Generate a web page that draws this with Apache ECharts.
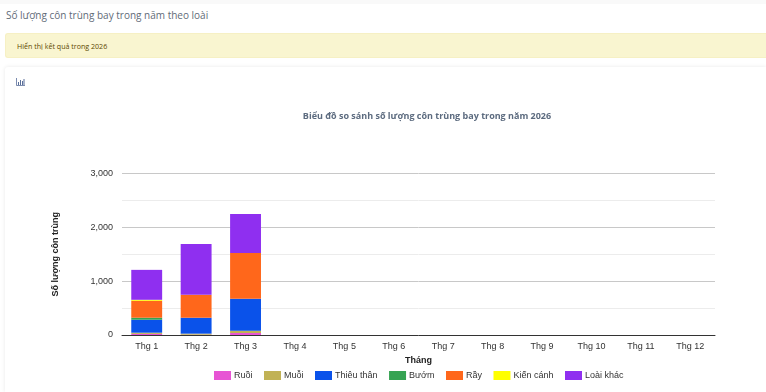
<!DOCTYPE html>
<html>
<head>
<meta charset="utf-8">
<script src="https://cdn.jsdelivr.net/npm/echarts@6/dist/echarts.min.js"></script>
<style>
  html, body { margin: 0; padding: 0; width: 766px; height: 392px; overflow: hidden; background: #fff; font-family: "Open Sans", sans-serif; }
  .top-shade { position: absolute; left: 0; top: 0; width: 766px; height: 4px; background: #f9f9f9; }
  .page-title { position: absolute; left: 6px; top: 7px; font-size: 10px; line-height: 17px; color: #5f6b78; }
  .alert { position: absolute; left: 5px; top: 33px; width: 761px; height: 25px; box-sizing: border-box; background: #f9f5d0; border: 1px solid #f6f0c4; border-right: 0; border-radius: 3px 0 0 3px; color: #5e4800; font-size: 7.1px; line-height: 25px; padding-left: 11px; }
  .card { position: absolute; left: 5px; top: 67px; width: 761px; height: 325px; background: #fff; border-radius: 3px 0 0 0; box-shadow: 0 0 4px rgba(0,0,0,0.09); }
  .icon { position: absolute; left: 11px; top: 11px; }
  #chart { position: absolute; left: 0; top: 0; width: 761px; height: 325px; }
</style>
</head>
<body>
<div class="top-shade"></div>
<div class="page-title">Số lượng côn trùng bay trong năm theo loài</div>
<div class="alert">Hiển thị kết quả trong 2026</div>
<div class="card">
  <div id="chart"></div>
  <svg class="icon" width="9" height="8" viewBox="0 0 9 8">
    <path d="M0.5 0V7.5H9" fill="none" stroke="#5a6f9a" stroke-width="0.8"/>
    <path d="M2 4h1v3H2zM4 2h1v5H4zM6 3h1v4H6zM7.5 1h1v6h-1z" fill="#5a6f9a"/>
  </svg>
</div>
<script>
const months = ['Thg 1', 'Thg 2', 'Thg 3', 'Thg 4', 'Thg 5', 'Thg 6', 'Thg 7', 'Thg 8', 'Thg 9', 'Thg 10', 'Thg 11', 'Thg 12'];
const ruoi = [20, 5, 37, 0, 0, 0, 0, 0, 0, 0, 0, 0];
const muoi = [23, 20, 43, 0, 0, 0, 0, 0, 0, 0, 0, 0];
const thieuThan = [241, 296, 593, 0, 0, 0, 0, 0, 0, 0, 0, 0];
const buom = [37, 0, 0, 0, 0, 0, 0, 0, 0, 0, 0, 0];
const ray = [315, 426, 852, 0, 0, 0, 0, 0, 0, 0, 0, 0];
const kienCanh = [18, 0, 0, 0, 0, 0, 0, 0, 0, 0, 0, 0];
const loaiKhac = [556, 944, 722, 0, 0, 0, 0, 0, 0, 0, 0, 0];

const font = '"Liberation Sans", Arial, sans-serif';
const bar = (name, data, color) => ({
  name, data, type: 'bar', stack: 'total', barWidth: '62.5%',
  itemStyle: { color },
});

const chart = echarts.init(document.getElementById('chart'));
chart.setOption({
  animation: false,
  title: {
    text: 'Biểu đồ so sánh số lượng côn trùng bay trong năm 2026',
    left: 417, top: 40, textAlign: 'center',
    textStyle: { fontFamily: '"Open Sans", sans-serif', fontSize: 9, fontWeight: 'bold', color: '#5c6b7f' },
  },
  legend: {
    bottom: 7, left: 204, itemWidth: 17, itemHeight: 9, itemGap: 11.5, icon: 'rect',
    textStyle: { fontFamily: font, fontSize: 9, color: '#333', padding: [0, 0, 0, -2] },
  },
  grid: { left: 117, right: 51, top: 106.5, bottom: 57 },
  xAxis: {
    type: 'category', data: months,
    name: 'Tháng', nameLocation: 'middle', nameGap: 21.5,
    nameTextStyle: { fontFamily: font, fontSize: 9, fontWeight: 'bold', color: '#222' },
    axisLine: { lineStyle: { color: '#333', width: 1 } },
    axisTick: { show: false },
    axisLabel: { fontFamily: font, fontSize: 9, color: '#333', margin: 7, interval: 0 },
  },
  yAxis: {
    type: 'value', min: 0, max: 3000, interval: 1000,
    name: 'Số lượng côn trùng', nameLocation: 'middle', nameGap: 62,
    nameTextStyle: { fontFamily: font, fontSize: 9, fontWeight: 'bold', color: '#222' },
    axisLine: { show: false },
    axisTick: { show: false },
    axisLabel: { fontFamily: font, fontSize: 9, color: '#333', margin: 9, formatter: v => v.toLocaleString('en-US') },
    splitLine: { lineStyle: { color: '#c8c8c8', width: 1 } },
    minorTick: { show: false, splitNumber: 2 },
    minorSplitLine: { show: true, lineStyle: { color: '#ececec', width: 1 } },
  },
  series: [
    bar('Ruồi', ruoi, '#e754d4'),
    bar('Muỗi', muoi, '#c1b255'),
    bar('Thiêu thân', thieuThan, '#0a52ea'),
    bar('Bướm', buom, '#35a352'),
    bar('Rầy', ray, '#ff671b'),
    bar('Kiến cánh', kienCanh, '#ffff00'),
    bar('Loài khác', loaiKhac, '#8f2ff0'),
  ],
});
</script>
</body>
</html>
